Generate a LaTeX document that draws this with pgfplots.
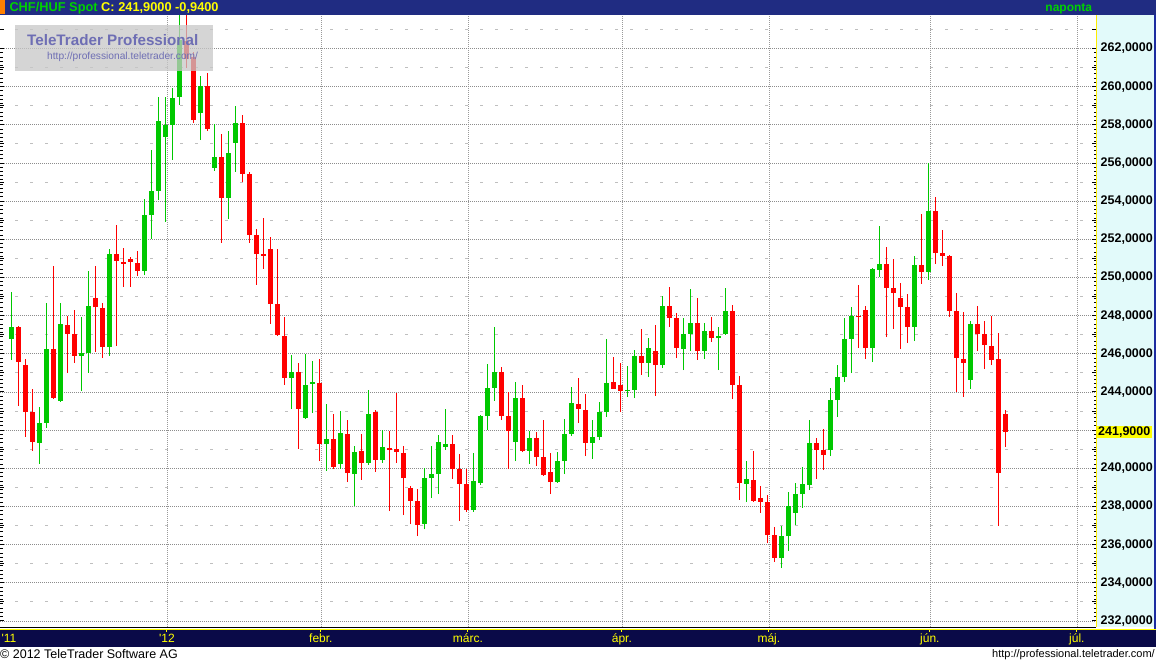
\documentclass[border=0pt]{standalone}
\usepackage{pgfplots}
\pgfplotsset{compat=1.18}
\usepackage{pgfplotstable}
\usepackage{fontspec}
\setmainfont{Liberation Sans}
\definecolor{cgreen}{RGB}{0,200,0}
\definecolor{cred}{RGB}{255,0,0}
\definecolor{topbar}{RGB}{32,44,130}
\definecolor{botbar}{RGB}{10,10,72}
\definecolor{panel}{RGB}{226,250,250}
\definecolor{ttyellow}{RGB}{255,255,0}
\definecolor{ttgreen}{RGB}{0,210,0}
\definecolor{wmblue}{RGB}{110,110,180}
\definecolor{wmgray}{RGB}{200,200,200}
\definecolor{rborder}{RGB}{28,44,160}

\pgfplotstableread{
i o h l c
0 246.78 249.24 245.68 247.42
1 247.41 247.46 243.28 245.59
2 245.42 245.73 241.66 242.97
3 242.97 244.16 240.93 241.40
4 241.35 243.23 240.23 242.39
5 242.39 248.65 242.13 246.25
6 246.25 250.60 243.65 243.70
7 243.55 248.65 243.49 247.56
8 247.51 247.98 245.01 247.06
9 247.04 248.30 245.54 245.90
10 245.90 247.95 244.04 246.04
11 246.04 250.34 245.01 248.51
12 248.93 250.60 246.11 248.44
13 248.40 248.65 245.80 246.38
14 246.38 251.50 245.90 251.23
15 251.23 252.75 246.43 250.88
16 250.81 251.55 249.52 250.73
17 250.97 251.08 249.52 250.83
18 250.76 251.39 250.10 250.36
19 250.36 254.10 250.13 253.28
20 253.28 256.68 252.02 254.54
21 254.54 259.46 254.06 258.20
22 257.38 259.46 252.93 257.99
23 258.01 259.92 256.16 259.41
24 259.48 263.90 259.04 262.45
25 262.40 263.90 260.98 261.45
26 261.57 261.80 258.11 258.25
27 258.64 260.56 257.21 260.04
28 260.04 260.74 257.70 257.78
29 255.76 258.05 255.60 256.32
30 256.32 257.52 251.83 254.19
31 254.19 257.68 253.07 256.53
32 257.07 258.99 255.55 258.10
33 258.10 258.52 255.02 255.43
34 255.43 255.51 251.83 252.25
35 252.23 252.53 249.61 251.25
36 251.23 253.12 250.45 251.13
37 251.50 252.11 247.58 248.63
38 248.61 251.50 246.95 247.01
39 246.94 247.93 244.37 244.75
40 244.75 245.94 243.11 245.05
41 245.05 245.52 241.03 243.11
42 242.66 245.99 242.59 244.37
43 244.44 245.63 242.92 244.49
44 244.47 245.71 240.38 241.29
45 241.29 243.37 239.88 241.54
46 241.54 242.85 239.98 240.07
47 240.23 243.00 239.96 241.85
48 241.80 242.53 239.28 239.75
49 239.70 241.17 238.04 240.85
50 240.91 241.80 239.39 240.28
51 240.28 244.10 240.17 242.85
52 242.95 243.06 239.81 240.44
53 240.44 242.01 240.28 241.12
54 241.06 241.95 237.76 240.96
55 241.01 243.95 240.28 240.86
56 240.80 241.17 237.55 239.49
57 238.97 239.07 237.08 238.29
58 238.29 238.92 236.45 237.03
59 237.08 240.02 236.80 239.49
60 239.49 241.17 238.44 239.70
61 239.70 241.74 238.65 241.38
62 241.12 243.11 240.96 241.27
63 241.27 241.74 239.44 239.96
64 239.96 240.75 237.24 239.18
65 239.18 239.96 237.71 237.81
66 237.81 240.80 237.71 239.33
67 239.23 242.79 239.13 242.74
68 242.74 245.47 242.01 244.21
69 244.21 247.41 243.53 245.05
70 245.05 245.31 242.53 242.74
71 242.74 244.02 239.96 241.95
72 241.38 244.52 240.38 243.68
73 243.68 244.37 240.85 240.91
74 240.91 241.95 240.23 241.59
75 241.59 241.90 240.12 240.59
76 240.59 242.53 239.60 239.65
77 239.81 240.80 238.65 239.28
78 239.28 240.85 239.23 240.38
79 240.38 242.58 239.70 241.80
80 241.80 244.26 241.69 243.42
81 243.37 244.73 242.37 243.11
82 243.06 243.89 240.64 241.33
83 241.33 242.53 240.49 241.64
84 241.64 243.47 241.48 242.95
85 242.95 246.78 242.69 244.47
86 244.52 245.83 244.16 244.16
87 244.37 245.52 242.95 244.05
88 244.05 245.36 243.74 244.10
89 244.10 246.20 243.68 245.89
90 245.89 247.30 244.89 245.52
91 245.52 246.83 244.78 246.30
92 246.15 247.51 243.79 245.41
93 245.41 249.03 245.26 248.51
94 248.51 249.50 247.41 247.88
95 247.88 248.14 245.78 246.30
96 246.25 247.88 245.15 247.04
97 247.04 249.40 246.15 247.61
98 247.61 248.93 245.68 246.15
99 246.15 247.61 245.73 247.19
100 247.19 247.93 246.62 246.82
101 246.82 247.41 245.15 246.93
102 247.04 249.45 246.99 248.24
103 248.24 248.56 243.63 244.37
104 244.37 244.84 238.34 239.23
105 239.18 240.38 238.23 239.44
106 239.39 240.91 238.24 238.29
107 238.44 239.07 237.66 238.24
108 238.24 238.60 236.08 236.50
109 236.50 236.92 235.09 235.30
110 235.30 236.98 234.77 236.45
111 236.45 238.76 235.67 238.02
112 237.66 239.23 237.03 238.65
113 238.65 240.07 237.92 239.18
114 239.13 242.53 238.86 241.33
115 241.33 241.59 239.44 240.96
116 240.96 242.06 239.91 240.70
117 240.96 244.21 240.64 243.58
118 243.58 245.41 242.69 244.78
119 244.78 247.88 244.52 246.78
120 246.78 248.45 244.99 247.98
121 247.98 249.61 246.30 247.93
122 248.30 248.51 245.73 246.30
123 246.30 250.50 245.57 250.44
124 250.39 252.70 250.02 250.71
125 250.71 251.60 246.88 249.45
126 249.45 250.97 247.30 249.19
127 248.93 249.71 246.25 248.45
128 248.45 249.14 246.57 247.41
129 247.41 251.13 246.67 250.66
130 250.66 253.33 249.66 250.29
131 250.29 256.00 249.87 253.48
132 253.48 254.22 250.71 251.28
133 251.28 252.49 250.60 251.13
134 251.13 251.18 247.93 248.25
135 248.25 249.19 244.00 245.78
136 245.73 248.19 243.74 245.52
137 244.63 247.72 244.16 247.56
138 247.56 248.51 246.15 247.04
139 247.04 247.72 245.20 246.46
140 246.41 247.98 245.41 245.68
141 245.73 247.09 236.98 239.75
142 242.85 243.06 241.12 241.90
}\candles

\begin{document}
\begin{tikzpicture}[x=1pt,y=1pt]
\path[use as bounding box] (0,0) rectangle (1156,664);
\fill[white] (0,0) rectangle (1156,664);
% right price panel
\fill[panel] (1096,37) rectangle (1153.5,649);
% bottom date bar
\fill[botbar] (0,17) rectangle (1156,35.5);

\begin{axis}[
  at={(0pt,37pt)}, anchor=south west, scale only axis,
  width=1096pt, height=612pt,
  xmin=-1.643, xmax=154.93, ymin=231.682, ymax=263.758,
  axis line style={draw=none},
  tick align=inside,
  major tick length=4pt, minor tick length=2.5pt,
  every tick/.style={black, line width=1pt},
  ytick={232,234,...,262}, minor y tick num=8,
  yticklabels={{232,0000},{234,0000},{236,0000},{238,0000},{240,0000},{},{244,0000},{246,0000},{248,0000},{250,0000},{252,0000},{254,0000},{256,0000},{258,0000},{260,0000},{262,0000}},
  yticklabel pos=right,
  yticklabel style={anchor=east, xshift=57pt, inner sep=0pt,
    font=\bfseries\fontsize{12.5}{12.5}\selectfont},
  ymajorgrids,
  major y grid style={draw=black!45, dash pattern=on 1pt off 1pt, line width=0.8pt},
  extra y ticks={233,235,...,263}, extra y tick labels={},
  extra y tick style={grid=major, major y grid style={draw=black!25, dash pattern=on 3pt off 12pt, dash phase=-15pt, line width=1pt}},
  xtick={22.2,44.2,65.2,87.2,108.2,131.2,152.2},
  xticklabels={\textquotesingle12,febr.,márc.,ápr.,máj.,jún.,júl.},
  xtick style={draw=none},
  xmajorgrids,
  major x grid style={draw=black!40, dash pattern=on 1pt off 1pt, line width=0.8pt},
  xticklabel style={anchor=base, yshift=-15.5pt, inner sep=0pt, text=ttyellow,
    font=\fontsize{12}{12}\selectfont},
  extra x ticks={-0.36}, extra x tick labels={\textquotesingle11},
  extra x tick style={grid=none},
]
% green wicks
\addplot[draw=none, mark=none, forget plot,
  restrict expr to domain={\thisrow{c}-\thisrow{o}}{0:100},
  error bars/.cd, y dir=plus, y explicit, error mark=none,
  error bar style={draw=cgreen, line width=1pt}]
  table[x=i, y=l, y error plus expr={\thisrow{h}-\thisrow{l}}] {\candles};
% green bodies
\addplot[draw=none, mark=none, forget plot,
  restrict expr to domain={\thisrow{c}-\thisrow{o}}{0:100},
  error bars/.cd, y dir=plus, y explicit, error mark=none,
  error bar style={draw=cgreen, line width=5pt}]
  table[x=i, y=o, y error plus expr={max(\thisrow{c}-\thisrow{o},0.06)}] {\candles};
% red wicks
\addplot[draw=none, mark=none, forget plot,
  restrict expr to domain={\thisrow{c}-\thisrow{o}}{-100:-0.0001},
  error bars/.cd, y dir=plus, y explicit, error mark=none,
  error bar style={draw=cred, line width=1pt}]
  table[x=i, y=l, y error plus expr={\thisrow{h}-\thisrow{l}}] {\candles};
% red bodies
\addplot[draw=none, mark=none, forget plot,
  restrict expr to domain={\thisrow{c}-\thisrow{o}}{-100:-0.0001},
  error bars/.cd, y dir=plus, y explicit, error mark=none,
  error bar style={draw=cred, line width=5pt}]
  table[x=i, y=c, y error plus expr={max(\thisrow{o}-\thisrow{c},0.06)}] {\candles};
\end{axis}

% top bar
\fill[topbar] (0,649) rectangle (1156,664);
\fill[orange] (0,650) rectangle (5,664);
\node[anchor=base west, inner sep=0pt] at (9.3,652.3)
  {\bfseries\fontsize{12.8}{12.8}\selectfont\textcolor{ttgreen}{CHF/HUF Spot} \textcolor{ttyellow}{C: 241,9000 -0,9400}};
\node[anchor=base east, inner sep=0pt] at (1092.3,652.5)
  {\bfseries\fontsize{12}{12}\selectfont\textcolor{ttgreen}{naponta}};
% panel borders
\draw[ttyellow!85!orange, line width=1pt] (1096.5,37) -- (1096.5,649);
\fill[rborder] (1153.5,35) rectangle (1156,649);
% bottom lines
\draw[black, line width=1.2pt] (0,36.8) -- (1096,36.8);
\draw[ttyellow, line width=1pt] (0,35) -- (1156,35);
\foreach \m in {22.2,44.2,65.2,87.2,108.2,131.2,152.2}{
  \draw[ttyellow, line width=1pt] ({11.5+7*\m},35) -- ({11.5+7*\m},32.5);
}
% current price label
\fill[ttyellow] (1097,225.7) rectangle (1152,238.3);
\node[anchor=east, inner sep=0pt] at (1150.5,232)
  {\bfseries\fontsize{12.5}{12.5}\selectfont 241,9000};
% watermark
\fill[wmgray, fill opacity=0.75] (15,593) rectangle (213,639);
\node[anchor=base west, inner sep=0pt, text=wmblue] at (27,618)
  {\bfseries\fontsize{15.2}{15.2}\selectfont TeleTrader Professional};
\node[anchor=base west, inner sep=0pt, text=wmblue] at (47,604)
  {\fontsize{10.2}{10.2}\selectfont http://professional.teletrader.com/};
% footer
\node[anchor=base west, inner sep=0pt] at (0,5.8)
  {\fontsize{12.5}{12.5}\selectfont © 2012 TeleTrader Software AG};
\node[anchor=base east, inner sep=0pt] at (1155,6.7)
  {\fontsize{11}{11}\selectfont http://professional.teletrader.com/};
\end{tikzpicture}
\end{document}
